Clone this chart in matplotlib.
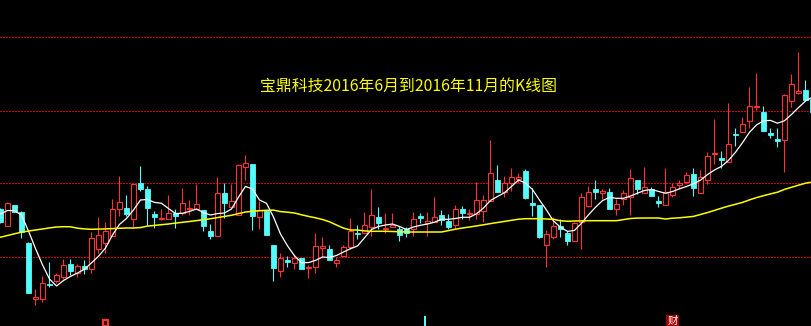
import matplotlib
matplotlib.use("Agg")
import matplotlib.pyplot as plt
from matplotlib.patches import Rectangle
import matplotlib.transforms as mtransforms

plt.rcParams['font.family'] = ['Noto Sans CJK SC', 'DejaVu Sans']

title = "宝鼎科技2016年6月到2016年11月的K线图"

opens = [19.1, 17.43, 19.47, 18.8, 15.73, 10.07, 10.07, 11.6, 11.87, 12.27,
         13.6, 12.67, 13.4, 13.07, 15.13, 15.73, 16.4, 19.07, 19.2, 18.07,
         21.73, 21.07, 18.6, 18.07, 18.13, 18.73, 18.73, 19.07, 19.07, 19.0,
         16.93, 16.4, 20.73, 19.33, 18.47, 23.27, 23.6, 18.33, 18.93, 15.47,
         12.93, 14.0, 13.73, 14.2, 13.2, 13.33, 15.2, 15.13, 13.73, 14.4,
         15.33, 16.73, 16.67, 17.33, 18.27, 17.07, 17.33, 17.13, 17.13, 17.13,
         18.4, 17.73, 17.8, 18.47, 17.93, 17.53, 19.07, 18.6, 18.6, 18.93,
         19.87, 22.0, 20.8, 21.67, 22.07, 22.93, 19.73, 19.53, 15.53, 16.33,
         17.4, 16.73, 15.93, 17.8, 19.4, 21.07, 20.67, 20.8, 19.07, 20.13,
         20.27, 22.0, 20.67, 21.13, 19.93, 19.47, 20.47, 21.5, 21.83, 22.63,
         20.7, 22.03, 24.57, 24.17, 23.83, 26.63, 26.83, 27.9, 29.3, 28.77,
         26.7, 26.1, 25.97, 29.9, 30.7, 31.03, 30.1]

highs = [19.2, 19.8, 19.5, 18.9, 15.8, 11.07, 12.4, 13.77, 12.73, 14.07,
         14.13, 13.6, 14.0, 16.8, 18.27, 17.8, 20.07, 22.4, 20.47, 21.6,
         23.4, 21.4, 18.93, 19.13, 20.53, 19.07, 21.2, 20.0, 21.6, 19.0,
         17.6, 22.27, 21.73, 21.6, 23.6, 24.53, 23.6, 19.87, 18.93, 15.47,
         14.73, 14.4, 14.53, 14.2, 13.47, 16.67, 16.27, 15.47, 14.33, 15.47,
         18.2, 17.47, 18.8, 21.07, 19.27, 18.67, 18.67, 17.4, 17.33, 18.8,
         18.73, 18.8, 20.33, 19.0, 18.6, 19.47, 19.4, 19.13, 21.8, 20.47,
         26.0, 23.53, 22.4, 23.2, 22.73, 23.07, 21.2, 19.53, 16.97, 18.33,
         18.07, 16.87, 17.8, 20.67, 21.4, 22.0, 21.13, 21.2, 20.13, 21.0,
         23.07, 22.0, 23.27, 21.27, 20.4, 23.2, 21.67, 22.03, 22.77, 23.17,
         23.03, 24.77, 28.1, 24.9, 29.7, 27.17, 28.3, 31.3, 32.7, 29.37,
         27.17, 27.23, 30.63, 32.57, 34.83, 32.03, 30.2]

lows = [17.7, 17.4, 18.8, 16.2, 10.7, 9.53, 9.8, 11.3, 11.67, 12.07,
        12.53, 12.27, 12.6, 12.67, 14.73, 14.73, 16.4, 18.4, 18.4, 17.2,
        20.93, 17.53, 17.2, 18.0, 18.13, 17.2, 18.53, 18.47, 19.07, 16.93,
        16.07, 16.4, 18.2, 19.2, 18.47, 22.0, 17.0, 17.13, 16.53, 11.93,
        12.33, 13.27, 13.13, 13.13, 12.2, 12.73, 14.2, 14.0, 13.33, 14.4,
        15.07, 16.07, 16.67, 16.4, 17.13, 16.73, 17.33, 15.87, 16.33, 16.4,
        17.73, 16.4, 17.8, 17.47, 17.07, 17.07, 18.07, 18.0, 18.13, 17.8,
        19.87, 20.8, 20.33, 20.93, 21.73, 20.13, 18.4, 16.2, 13.33, 16.13,
        16.33, 15.47, 15.93, 15.13, 19.33, 20.13, 20.13, 19.13, 18.47, 19.53,
        18.47, 20.6, 20.67, 20.4, 19.27, 19.47, 20.27, 21.1, 21.57, 20.43,
        20.7, 21.63, 23.57, 23.17, 23.83, 25.37, 26.83, 27.17, 28.97, 26.9,
        26.17, 25.3, 22.77, 29.3, 30.57, 29.97, 28.8]

closes = [17.8, 19.73, 18.8, 16.8, 10.73, 10.33, 11.67, 11.47, 12.47, 13.47,
          12.87, 13.4, 13.13, 16.2, 16.47, 16.87, 19.07, 19.8, 18.6, 21.6,
          21.07, 19.2, 18.33, 18.2, 18.67, 18.4, 19.67, 19.2, 19.6, 17.4,
          16.4, 20.67, 19.73, 19.87, 23.53, 23.67, 18.4, 19.0, 16.53, 13.2,
          14.2, 13.8, 14.2, 13.13, 13.33, 15.4, 15.4, 14.0, 14.0, 15.27,
          16.93, 16.6, 17.47, 18.47, 17.73, 17.2, 17.53, 16.53, 16.67, 18.13,
          18.2, 17.87, 18.33, 18.0, 17.33, 19.07, 18.67, 18.73, 20.0, 20.0,
          22.73, 20.8, 21.73, 22.27, 22.27, 20.2, 19.53, 16.27, 16.6, 17.4,
          17.07, 15.93, 17.67, 20.27, 20.8, 20.8, 20.93, 19.13, 19.6, 20.67,
          22.2, 21.13, 21.27, 20.4, 19.67, 20.8, 21.33, 21.7, 22.5, 21.23,
          22.3, 24.37, 24.7, 23.97, 25.57, 26.5, 27.57, 29.37, 29.37, 26.9,
          26.5, 25.9, 30.5, 31.57, 30.9, 29.97, 28.8]

ma_short = [18.6, 18.95, 18.93, 18.5, 16.9, 15.15, 13.52, 12.1, 11.4, 11.95,
            12.36, 12.7, 13.07, 13.72, 14.37, 15.2, 16.5, 17.56, 18.15, 19.0,
            20.0, 20.06, 19.76, 19.67, 19.15, 18.65, 18.67, 18.86, 19.1, 18.74,
            18.5, 18.64, 18.7, 19.1, 20.28, 21.36, 21.1, 20.0, 19.67, 18.3,
            16.6, 15.42, 14.43, 13.73, 13.74, 13.96, 14.3, 14.25, 14.45, 14.8,
            15.13, 15.4, 16.22, 17.05, 17.35, 17.5, 17.6, 17.35, 17.05, 17.3,
            17.47, 17.6, 17.78, 18.07, 18.07, 18.15, 18.27, 18.27, 18.62, 19.2,
            19.95, 20.35, 20.73, 21.35, 22.0, 21.7, 21.05, 20.0, 19.0, 17.9,
            17.28, 16.86, 16.96, 17.67, 18.52, 19.27, 19.94, 20.26, 20.17, 20.17,
            20.4, 20.68, 20.95, 21.05, 20.86, 20.67, 20.85, 21.12, 21.35, 21.63,
            21.98, 22.54, 23.0, 23.36, 23.96, 24.77, 25.73, 26.77, 27.5, 27.92,
            27.96, 27.68, 27.92, 28.55, 29.24, 29.89, 30.3]

ma_long = [16.28, 16.45, 16.62, 16.78, 16.9, 17.0, 17.1, 17.21, 17.3, 17.33,
           17.32, 17.18, 17.11, 17.07, 17.09, 17.11, 17.14, 17.17, 17.2, 17.2,
           17.24, 17.39, 17.46, 17.53, 17.6, 17.69, 17.77, 17.85, 17.94, 18.03,
           18.13, 18.24, 18.36, 18.47, 18.64, 18.8, 18.87, 18.93, 18.97, 18.99,
           18.84, 18.78, 18.7, 18.52, 18.36, 18.22, 18.05, 17.82, 17.5, 17.19,
           17.0, 17.0, 16.91, 16.87, 16.87, 16.87, 16.85, 16.83, 16.8, 16.8,
           16.8, 16.8, 16.8, 16.8, 16.94, 17.08, 17.2, 17.3, 17.41, 17.52,
           17.64, 17.75, 17.86, 17.97, 18.08, 18.13, 18.13, 18.13, 18.1, 18.07,
           17.92, 17.88, 17.9, 17.91, 17.93, 17.93, 17.93, 17.93, 17.93, 18.04,
           18.15, 18.19, 18.2, 18.2, 18.2, 18.1, 18.18, 18.22, 18.29, 18.36,
           18.55, 18.74, 18.96, 19.18, 19.39, 19.57, 19.76, 20.01, 20.24, 20.43,
           20.61, 20.78, 21.06, 21.27, 21.48, 21.68, 21.8]

grid_levels = [14.33, 21.67, 28.93, 36.27]

# event markers along the bottom: (candle index, kind)
event_markers = [(15, "box"), (60.6, "bar"), (96, "财")]

n = min(len(opens), len(highs), len(lows), len(closes))
UP = "#FF3232"
DOWN = "#54FCFC"

fig = plt.figure(figsize=(8.11, 3.26), dpi=100, facecolor="black")
ax = fig.add_axes([0, 0, 1, 1])
ax.set_facecolor("black")
ax.set_xlim(-0.07, 115.79)
ax.set_ylim(7.4, 40.0)
for s in ax.spines.values():
    s.set_visible(False)
ax.set_xticks([])
ax.set_yticks([])

for g in grid_levels:
    ax.axhline(g, color="#D00000", lw=0.75, linestyle=(0, (1.4, 1.4)),
               antialiased=False, zorder=1)

w = 0.72
for i in range(n):
    o, h, l, c = opens[i], highs[i], lows[i], closes[i]
    if c >= o:
        top, bot = c, o
        ax.vlines(i, top, h, color=UP, lw=0.8, zorder=3)
        ax.vlines(i, l, bot, color=UP, lw=0.8, zorder=3)
        ax.add_patch(Rectangle((i - w / 2, bot), w, max(top - bot, 0.02),
                               facecolor="black", edgecolor=UP, lw=0.8, zorder=4))
    else:
        ax.vlines(i, l, h, color=DOWN, lw=0.8, zorder=3)
        ax.add_patch(Rectangle((i - w / 2, c), w, max(o - c, 0.02),
                               facecolor=DOWN, edgecolor=DOWN, lw=0.6, zorder=4))

ax.plot(list(range(len(ma_short))), ma_short, color="white", lw=0.9, zorder=5)
ax.plot(list(range(len(ma_long))), ma_long, color="#FFFF00", lw=1.1, zorder=5)

ax.text(0.5035, 0.736, title, transform=ax.transAxes, ha="center", va="center",
        color="#FFFF00", fontsize=11.4)

trans = mtransforms.blended_transform_factory(ax.transData, ax.transAxes)
for idx, kind in event_markers:
    if kind == "box":
        ax.add_patch(Rectangle((idx - 0.42, 0.0), 0.84, 0.017, transform=trans,
                               facecolor="black", edgecolor=UP, lw=1.6, zorder=6,
                               clip_on=False))
    elif kind == "bar":
        ax.add_patch(Rectangle((idx - 0.15, 0.0), 0.3, 0.03, transform=trans,
                               facecolor=DOWN, edgecolor="none", zorder=6))
    else:
        ax.text(idx, 0.0, kind, transform=trans, ha="center", va="bottom",
                color="white", fontsize=7.5, zorder=6,
                bbox=dict(boxstyle="square,pad=0.1", facecolor="#A00000",
                          edgecolor="none"))

fig.savefig("out.png", dpi=100, facecolor="black")
